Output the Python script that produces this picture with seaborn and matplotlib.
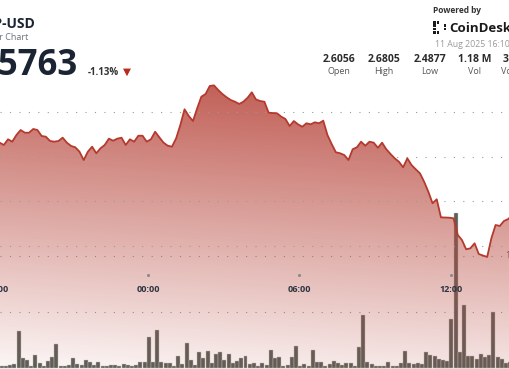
import numpy as np
import pandas as pd
import matplotlib
matplotlib.use("Agg")
import matplotlib.pyplot as plt
import seaborn as sns
from matplotlib.transforms import blended_transform_factory
from matplotlib.patches import Rectangle

# ---- data (10 minute samples) ----
start_minute = -353  # minutes relative to 00:00
price = [
    2.6161, 2.6135, 2.6199, 2.6172, 2.6247, 2.6303, 2.6273, 2.6273, 2.6315, 2.6303,
    2.6236, 2.6228, 2.6180, 2.6172, 2.6180, 2.6217, 2.6161, 2.6124, 2.6109, 2.6060,
    2.5966, 2.6060, 2.6116, 2.6042, 2.6098, 2.6135, 2.6206, 2.6183, 2.6206, 2.6217,
    2.6135, 2.6199, 2.6172, 2.6239, 2.6239, 2.6172, 2.6199, 2.6284, 2.6221, 2.6161,
    2.6127, 2.6116, 2.6210, 2.6360, 2.6536, 2.6461, 2.6404, 2.6547, 2.6678, 2.6708,
    2.6798, 2.6805, 2.6753, 2.6708, 2.6671, 2.6640, 2.6621, 2.6596, 2.6621, 2.6666,
    2.6727, 2.6646, 2.6629, 2.6621, 2.6498, 2.6494, 2.6491, 2.6453, 2.6427, 2.6348,
    2.6404, 2.6367, 2.6340, 2.6379, 2.6367, 2.6390, 2.6379, 2.6408, 2.6247, 2.6146,
    2.6053, 2.6042, 2.6022, 2.5966, 2.6087, 2.6109, 2.6172, 2.6127, 2.6172, 2.6161,
    2.6104, 2.6161, 2.6087, 2.6034, 2.5985, 2.5947, 2.5884, 2.5985, 2.5910, 2.5862,
    2.5817, 2.5722, 2.5610, 2.5480, 2.5525, 2.5322, 2.5320, 2.5318, 2.5311, 2.5124,
    2.5067, 2.4963, 2.4974, 2.5030, 2.4910, 2.4893, 2.4877, 2.5087, 2.5236, 2.5225,
    2.5281, 2.5303, 2.5348,
]
volume_k = [
    2.0, 2.0, 2.9, 3.5, 33.0, 8.8, 6.8, 1.5, 11.2, 4.4,
    2.0, 5.9, 10.0, 21.2, 2.0, 2.0, 2.9, 8.8, 3.8, 2.9,
    6.8, 5.0, 2.9, 5.3, 2.0, 2.0, 2.9, 2.3, 1.5, 3.2,
    2.9, 1.5, 2.9, 5.3, 5.0, 28.0, 5.3, 33.9, 5.3, 4.4,
    4.4, 1.5, 10.9, 3.5, 22.0, 7.4, 2.9, 14.2, 8.8, 15.3,
    4.4, 12.4, 13.9, 6.8, 12.4, 4.4, 5.9, 8.8, 10.9, 3.5,
    4.4, 2.0, 4.4, 2.9, 15.6, 8.8, 9.7, 2.0, 2.9, 9.7,
    19.7, 2.0, 3.5, 1.5, 15.6, 5.3, 5.0, 1.5, 3.5, 5.9,
    4.4, 2.9, 4.4, 4.4, 1.5, 18.3, 47.2, 5.3, 3.5, 2.0,
    2.0, 2.0, 5.3, 2.0, 2.0, 4.4, 14.8, 4.4, 3.5, 4.4,
    3.5, 13.9, 11.8, 10.3, 8.0, 7.4, 5.9, 43.6, 138.0, 13.9,
    56.0, 10.3, 10.3, 8.0, 12.4, 9.4, 11.8, 49.6, 9.4, 8.3,
    4.4, 5.3, 17.7,
]
price_grid = [2.50, 2.55, 2.60, 2.65]
volume_grid = [50, 100]
volume_label = "100K"
tick_minutes = [-360, 0, 360, 720]
tick_labels = ["18:00", "00:00", "06:00", "12:00"]
stats_values = ["2.6056", "2.6805", "2.4877", "1.18 M", "3.05 M"]
stats_names = ["Open", "High", "Low", "Vol", "Vol (USD)"]

minutes = start_minute + 10 * np.arange(len(price))
df = pd.DataFrame({"minute": minutes, "price": price,
                   "bar_minute": minutes + 5, "volume": volume_k})

W, H = 510, 369
sns.set_style("white")
plt.rcParams["font.family"] = ["Open Sans", "DejaVu Sans"]

fig = plt.figure(figsize=(W / 100, H / 100), dpi=100)
xlim = (-352.1, 861.3)
ylim = (2.3618, 2.7764)

def fx(x):
    return x / W

def fy(y):
    return 1 - y / H

# volume bars (underneath)
ax_vol = fig.add_axes([0, 0, 1, 1])
sns.barplot(data=df, x="bar_minute", y="volume", native_scale=True, ax=ax_vol,
            color="#5a6058", saturation=1, width=0.95, errorbar=None,
            edgecolor="#c8c8c8", linewidth=0.3)
for v in volume_grid:
    ax_vol.axhline(v, color="#9a9a9a", lw=0.8, ls=(0, (1, 7.5)), zorder=0)
ax_vol.set_xlim(*xlim)
ax_vol.set_ylim(-0.885, 327.4)
ax_vol.axis("off")
tr_vol = blended_transform_factory(fig.transFigure, ax_vol.transData)
ax_vol.text(fx(526), volume_grid[-1], volume_label, transform=tr_vol, ha="right",
            va="center", fontsize=6.5, color="#555555")

# price area
ax = fig.add_axes([0, 0, 1, 1])
ax.patch.set_alpha(0)
poly = ax.fill_between(df["minute"], df["price"], ylim[0] - 0.02, color="none", lw=0)
yy, xx = np.mgrid[0:H, 0:W] + 0.5
alpha = np.clip(0.0028 * (403 - (yy - 0.07 * (xx - 255))), 0, 0.9)
rgba = np.zeros((H, W, 4))
rgba[..., 0] = 185 / 255
rgba[..., 1] = 75 / 255
rgba[..., 2] = 65 / 255
rgba[..., 3] = alpha
im = ax.imshow(rgba, extent=[xlim[0], xlim[1], ylim[0], ylim[1]], origin="upper",
               aspect="auto", zorder=1, interpolation="bilinear")
im.set_clip_path(poly.get_paths()[0], transform=ax.transData)

for v in price_grid:
    ax.axhline(v, color="#9a9a9a", lw=0.8, ls=(0, (1, 7.5)), zorder=2)

sns.lineplot(data=df, x="minute", y="price", ax=ax, color="#b5392d", lw=1.3, zorder=4)
ax.set_xlim(*xlim)
ax.set_ylim(*ylim)
ax.axis("off")

tr_t = blended_transform_factory(ax.transData, fig.transFigure)
for t, lab in zip(tick_minutes, tick_labels):
    ax.plot([t], [fy(275)], transform=tr_t, marker="o", ms=1.2, color="#8a8a8a", zorder=5)
    ax.text(t, fy(289), lab, transform=tr_t, ha="center", va="center",
            fontsize=6.5, fontweight="bold", color="#2b3340", zorder=5)

# header
dark = "#1b2433"
fig.text(fx(35), fy(28.5), "XRP-USD", ha="right", va="baseline", fontsize=10,
         fontweight="bold", color=dark)
fig.text(fx(28), fy(40), "24 Hour Chart", ha="right", va="baseline", fontsize=6.5,
         color="#6b7280")
fig.text(fx(78), fy(75), "2.5763", ha="right", va="baseline", fontsize=25,
         fontweight="bold", color=dark)
fig.text(fx(88), fy(75), "-1.13%", ha="left", va="baseline", fontsize=7,
         fontweight="bold", color="#333333")
fig.text(fx(123), fy(75), "▼", ha="left", va="baseline", fontsize=7.5,
         color="#b8291e", family="DejaVu Sans")

fig.text(fx(433), fy(12.7), "Powered by", ha="left", va="baseline", fontsize=6,
         fontweight="bold", color="#333333")
for cx, cy in [(0, 0), (0, 1), (0, 2), (0, 3), (1, 0), (1, 3), (3, 1), (3, 2)]:
    fig.add_artist(Rectangle((fx(433 + cx * 3.6), fy(21 + cy * 3.4 + 2.6)),
                             2.6 / W, 2.6 / H, transform=fig.transFigure,
                             color="#1a1a1a", lw=0))
fig.text(fx(449), fy(31.5), "CoinDesk", ha="left", va="baseline", fontsize=9.5,
         fontweight="bold", color="#1a1a1a")
fig.text(fx(435), fy(46.7), "11 Aug 2025 16:10 UTC", ha="left", va="baseline",
         fontsize=6.3, color="#9a9a9a")
for xc, val, name in zip([339, 384, 430, 475, 520], stats_values, stats_names):
    fig.text(fx(xc), fy(62.3), val, ha="center", va="baseline", fontsize=7.5,
             fontweight="bold", color="#2b2b2b")
    fig.text(fx(xc), fy(74), name, ha="center", va="baseline", fontsize=6.5,
             color="#555555")

fig.savefig("out.png", dpi=100)
